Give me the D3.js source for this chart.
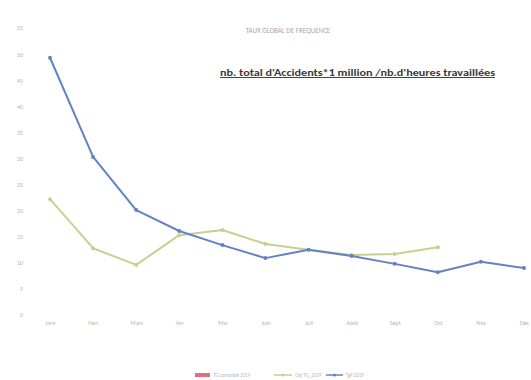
<!DOCTYPE html>
<html>
<head>
<meta charset="utf-8">
<script src="https://cdn.jsdelivr.net/npm/d3@7/dist/d3.min.js"></script>
<style>
  html, body { margin: 0; padding: 0; background: #fff; }
  svg { display: block; }
</style>
</head>
<body>
<svg id="chart" width="531" height="380"></svg>
<script>
// Monthly categories
const months = ["Janv", "Févr", "Mars", "Avr", "Mai", "Juin", "Juil", "Août", "Sept", "Oct", "Nov", "Déc"];
// Frequency rate series
const tgConsolide = [];
const tgObjectif = [22.2, 12.8, 9.6, 15.3, 16.3, 13.6, 12.5, 11.5, 11.7, 13.0];
const tgAnnuel = [49.3, 30.3, 20.1, 16.1, 13.4, 10.9, 12.5, 11.3, 9.8, 8.2, 10.2, 9.0];
// Y axis ticks
const yTicks = [0, 5, 10, 15, 20, 25, 30, 35, 40, 45, 50, 55];
// Legend labels
const legendLabels = ["TG consolidé 2019", "Obj TG_2019", "TgF 2019"];

const svg = d3.select("#chart");
const font = "Calibri, 'Liberation Sans', 'DejaVu Sans', sans-serif";

const x = d3.scalePoint().domain(months).range([50, 524]);
const y = d3.scaleLinear().domain([0, 55]).range([315, 28]);

// Title
svg.append("text")
  .attr("x", 288).attr("y", 33)
  .attr("text-anchor", "middle")
  .attr("font-family", font).attr("font-size", 7)
  .attr("fill", "#a8a8a8")
  .text("TAUX GLOBAL DE FREQUENCE");

// Y axis (labels only)
const yAxis = d3.axisLeft(y).tickValues(yTicks).tickSize(0).tickPadding(0);
const gy = svg.append("g").attr("transform", "translate(23,0)").call(yAxis);
gy.select(".domain").remove();
gy.selectAll("text")
  .attr("font-family", font).attr("font-size", 6)
  .attr("fill", "#b4b4b4");

// X axis (labels only)
const xAxis = d3.axisBottom(x).tickSize(0).tickPadding(0);
const gx = svg.append("g").attr("transform", "translate(0,321)").call(xAxis);
gx.select(".domain").remove();
gx.selectAll("text")
  .attr("font-family", font).attr("font-size", 6)
  .attr("fill", "#b4b4b4");

// Formula annotation
svg.append("text")
  .attr("x", 220).attr("y", 76)
  .attr("font-family", font).attr("font-size", 9.5)
  .attr("font-weight", 600)
  .attr("fill", "#3a3a3a")
  .attr("text-decoration", "underline")
  .attr("textLength", 275).attr("lengthAdjust", "spacingAndGlyphs")
  .text("nb. total d'Accidents*1 million /nb.d'heures travaillées");

const line = d3.line().x((d, i) => x(months[i])).y(d => y(d));

function drawSeries(values, color) {
  svg.append("path")
    .datum(values)
    .attr("fill", "none")
    .attr("stroke", color)
    .attr("stroke-width", 2)
    .attr("stroke-linejoin", "round")
    .attr("d", line);
  svg.append("g").selectAll("circle")
    .data(values)
    .join("circle")
    .attr("cx", (d, i) => x(months[i]))
    .attr("cy", d => y(d))
    .attr("r", 2)
    .attr("fill", color);
}

drawSeries(tgObjectif, "#c9cf8e");
drawSeries(tgAnnuel, "#6283c3");

// Legend
const lg = svg.append("g").attr("font-family", font).attr("font-size", 5).attr("fill", "#b8b8b8");
lg.append("rect").attr("x", 195).attr("y", 373).attr("width", 15).attr("height", 4).attr("fill", "#e0707e");
lg.append("text").attr("x", 213).attr("y", 377).text(legendLabels[0]);
lg.append("line").attr("x1", 274).attr("x2", 292).attr("y1", 375).attr("y2", 375).attr("stroke", "#c9cf8e").attr("stroke-width", 1.5);
lg.append("circle").attr("cx", 283).attr("cy", 375).attr("r", 1.5).attr("fill", "#c9cf8e");
lg.append("text").attr("x", 295).attr("y", 377).text(legendLabels[1]);
lg.append("line").attr("x1", 326).attr("x2", 343).attr("y1", 375).attr("y2", 375).attr("stroke", "#6283c3").attr("stroke-width", 1.5);
lg.append("circle").attr("cx", 334.5).attr("cy", 375).attr("r", 1.5).attr("fill", "#6283c3");
lg.append("text").attr("x", 346).attr("y", 377).text(legendLabels[2]);
</script>
</body>
</html>
